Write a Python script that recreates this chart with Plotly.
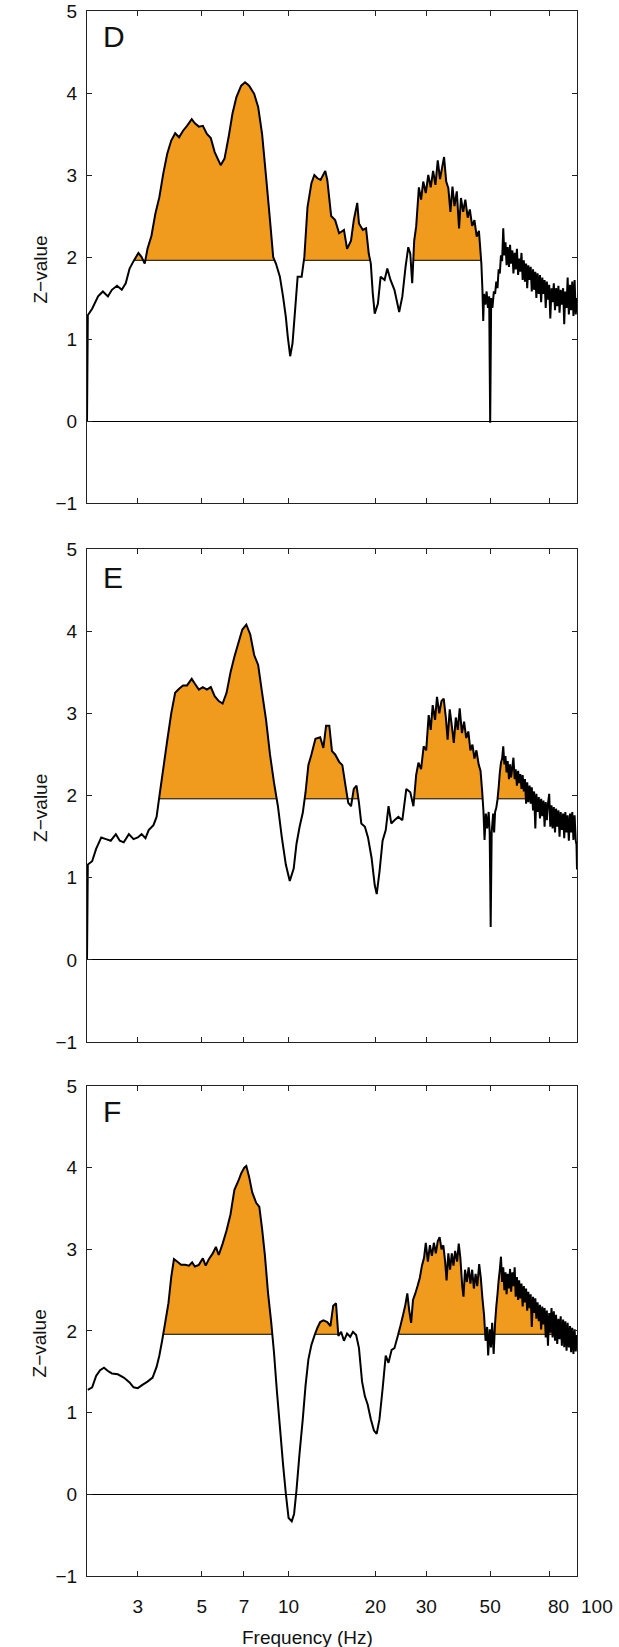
import numpy as np
import plotly.graph_objects as go

THRESH = 1.96

# ---------------- Panel D ----------------
freq_D = [2.0, 2.013, 2.084, 2.185, 2.27, 2.364, 2.44, 2.542, 2.64, 2.725, 2.81, 2.90,
          3.015, 3.093, 3.171, 3.242, 3.346, 3.453, 3.564, 3.678, 3.795, 3.918, 4.043,
          4.172, 4.306, 4.444, 4.615, 4.733, 4.885, 5.043, 5.209, 5.374, 5.543, 5.815,
          5.996, 6.193, 6.39, 6.594, 6.849, 7.066, 7.295, 7.598, 7.843, 8.094, 8.354,
          8.62, 8.843, 9.038, 9.328, 9.565, 9.781, 9.935, 10.126, 10.32, 10.51, 10.75,
          11.10, 11.34, 11.63, 12.0, 12.28, 12.59, 12.91, 13.4, 13.62, 14.05, 14.5,
          14.97, 15.56, 15.95, 16.46, 16.83, 17.3, 17.54, 18.09, 18.56, 18.97, 19.28,
          19.58, 19.89, 20.40, 20.85, 21.52, 21.99, 22.56, 23.28, 24.18, 24.80, 25.44,
          26.0, 26.42, 26.83, 27.26, 27.69,
          28.3, 28.8, 29.3, 29.9, 30.5, 31.1, 31.7, 32.3, 32.9, 33.5, 34.1, 34.6, 35.2,
          35.8, 36.4, 37.0, 37.6, 38.3, 39.0, 39.6, 40.3, 41.0, 41.8, 42.5, 43.3, 44.1,
          44.9, 45.7, 46.2, 46.6, 47.0, 47.3, 47.6, 48.1, 48.6, 49.1, 49.6, 50.0, 50.4,
          50.9, 51.5,
          52.0, 52.5, 53.0, 53.5, 54.0, 54.5, 55.0, 55.5, 56.0, 56.5, 57.0, 57.5, 58.1,
          58.6, 59.1, 59.7, 60.2, 60.8, 61.3, 61.9, 62.5, 63.0, 63.6, 64.2, 64.8, 65.4,
          66.0, 66.6, 67.2, 67.8, 68.5, 69.1, 69.7, 70.4, 71.0, 71.7, 72.3, 73.0, 73.7,
          74.4, 75.1, 75.8, 76.5, 77.2, 77.9, 78.6, 79.3, 80.1, 80.8, 81.6, 82.3, 83.1,
          83.9, 84.6, 85.4, 86.2, 87.0, 87.8, 88.6, 89.5, 90.3, 91.1, 92.0, 92.8, 93.7,
          94.6, 95.4, 96.3, 97.2, 98.1, 99.0, 100.0]
z_D = [0.0, 1.29, 1.37, 1.52, 1.58, 1.52, 1.60, 1.65, 1.60, 1.68, 1.86, 1.95,
       2.05, 2.00, 1.92, 2.10, 2.26, 2.53, 2.73, 3.02, 3.26, 3.42, 3.51,
       3.46, 3.54, 3.60, 3.68, 3.63, 3.59, 3.60, 3.50, 3.45, 3.28, 3.12,
       3.20, 3.46, 3.75, 3.95, 4.09, 4.13, 4.09, 3.99, 3.83, 3.50, 2.98,
       2.45, 2.00, 1.92, 1.76, 1.52, 1.27, 1.03, 0.79, 0.95, 1.31, 1.76,
       1.76, 2.00, 2.61, 2.90, 3.00, 2.96, 2.94, 3.05, 2.94, 2.50, 2.45,
       2.29, 2.33, 2.10, 2.20, 2.45, 2.66, 2.41, 2.33, 2.35, 2.04, 1.92,
       1.56, 1.31, 1.43, 1.76, 1.72, 1.86, 1.72, 1.60, 1.33, 1.52, 1.88,
       2.12, 2.04, 1.68, 2.20, 2.37,
       2.85, 2.70, 2.92, 2.78, 3.00, 2.85, 3.05, 2.88, 3.18, 2.95, 3.10, 3.22, 2.92,
       2.84, 2.55, 2.86, 2.62, 2.80, 2.35, 2.72, 2.55, 2.70, 2.48, 2.58, 2.38, 2.45,
       2.25, 2.32, 2.10, 1.92, 1.60, 1.22, 1.55, 1.42, 1.58, 1.38, 1.52, -0.02, 1.50,
       1.38, 1.58,
       1.55, 1.70, 1.62, 1.85, 1.80, 2.02, 1.95, 2.35, 2.02, 2.18, 1.90, 2.12, 1.88,
       2.15, 1.92, 2.08, 1.80, 2.05, 1.85, 2.10, 1.78, 1.98, 1.82, 2.05, 1.72, 1.96,
       1.70, 1.92, 1.62, 1.90, 1.72, 1.88, 1.58, 1.85, 1.60, 1.82, 1.50, 1.80, 1.55,
       1.78, 1.45, 1.75, 1.55, 1.72, 1.38, 1.70, 1.48, 1.66, 1.25, 1.62, 1.45, 1.68,
       1.35, 1.62, 1.40, 1.65, 1.32, 1.60, 1.42, 1.62, 1.18, 1.58, 1.38, 1.75, 1.30,
       1.66, 1.35, 1.70, 1.28, 1.72, 1.30, 1.50]
fill_ranges_D = [(2.81, 9.038), (11.10, 19.28), (26.83, 46.6)]

# ---------------- Panel E ----------------
freq_E = [2.0, 2.013, 2.084, 2.151, 2.241, 2.327, 2.417, 2.518, 2.598, 2.682, 2.794, 2.90,
          3.0, 3.093, 3.19, 3.273, 3.40, 3.486, 3.564, 3.678, 3.795, 3.918, 4.043, 4.172,
          4.306, 4.444, 4.615, 4.733, 4.885, 5.043, 5.209, 5.374, 5.543, 5.725, 5.906,
          6.094, 6.291, 6.488, 6.70, 6.913, 7.135, 7.363, 7.598, 7.843, 8.094, 8.354,
          8.62, 8.898, 9.183, 9.474, 9.781, 10.094, 10.416, 10.65, 10.92, 11.20, 11.45,
          11.71, 12.0, 12.39, 12.87, 13.2, 13.49, 13.84, 14.14, 14.5, 14.97, 15.36,
          15.75, 16.10, 16.46, 16.83, 17.2, 17.54, 17.87, 18.39, 18.85, 19.40, 19.89,
          20.21, 20.66, 21.18, 21.72, 22.21, 22.70, 23.28, 24.02, 24.80, 25.6, 26.42,
          27.09, 27.69,
          28.2, 28.8, 29.4, 30.0, 30.6, 31.1, 31.6, 32.2, 32.7, 33.3, 33.9, 34.5, 35.1,
          35.6, 36.2, 36.8, 37.4, 38.0, 38.6, 39.2, 39.9, 40.6, 41.3, 42.0, 42.7, 43.4,
          44.1, 44.8, 45.6, 46.3, 46.9, 47.4, 47.8, 48.3, 48.8, 49.4, 49.8, 50.2, 50.6,
          51.2, 51.6,
          52.0, 52.5, 53.0, 53.5, 54.0, 54.5, 55.0, 55.5, 56.0, 56.5, 57.0, 57.5, 58.1,
          58.6, 59.1, 59.7, 60.2, 60.8, 61.3, 61.9, 62.5, 63.0, 63.6, 64.2, 64.8, 65.4,
          66.0, 66.6, 67.2, 67.8, 68.5, 69.1, 69.7, 70.4, 71.0, 71.7, 72.3, 73.0, 73.7,
          74.4, 75.1, 75.8, 76.5, 77.2, 77.9, 78.6, 79.3, 80.1, 80.8, 81.6, 82.3, 83.1,
          83.9, 84.6, 85.4, 86.2, 87.0, 87.8, 88.6, 89.5, 90.3, 91.1, 92.0, 92.8, 93.7,
          94.6, 95.4, 96.3, 97.2, 98.1, 99.0, 99.6, 100.0]
z_E = [0.0, 1.16, 1.20, 1.35, 1.49, 1.47, 1.45, 1.53, 1.45, 1.43, 1.53, 1.47,
       1.49, 1.53, 1.48, 1.58, 1.64, 1.74, 1.99, 2.33, 2.67, 3.00, 3.25, 3.30,
       3.34, 3.34, 3.42, 3.36, 3.29, 3.32, 3.29, 3.32, 3.21, 3.15, 3.12,
       3.25, 3.50, 3.69, 3.86, 4.02, 4.08, 3.96, 3.71, 3.59, 3.25, 2.92,
       2.50, 2.16, 1.87, 1.49, 1.16, 0.96, 1.11, 1.41, 1.62, 1.79, 2.04,
       2.37, 2.50, 2.69, 2.71, 2.58, 2.85, 2.85, 2.54, 2.50, 2.41, 2.37,
       2.12, 1.91, 1.87, 2.08, 2.12, 1.91, 1.66, 1.62, 1.49, 1.24, 0.91,
       0.80, 1.07, 1.45, 1.58, 1.87, 1.66, 1.70, 1.74, 1.70, 2.08, 2.04,
       1.87, 2.25,
       2.40, 2.32, 2.60, 2.55, 2.98, 2.80, 3.10, 2.92, 3.20, 3.00, 3.15, 3.18, 2.95,
       2.68, 3.05, 2.85, 2.64, 2.95, 2.80, 3.06, 2.76, 2.90, 2.70, 2.78, 2.55, 2.62,
       2.45, 2.55, 2.38, 2.30, 2.05, 1.80, 1.46, 1.78, 1.60, 1.80, 1.55, 0.40, 1.55,
       1.78, 1.55,
       1.80, 1.85, 1.95, 2.10, 2.28, 2.40, 2.45, 2.60, 2.38, 2.48, 2.28, 2.42, 2.20,
       2.38, 2.22, 2.35, 2.46, 2.20, 2.32, 2.12, 2.30, 2.15, 2.26, 2.08, 2.25, 2.05,
       2.20, 1.90, 2.16, 1.92, 2.12, 1.90, 2.10, 1.82, 2.05, 1.60, 2.02, 1.80, 1.98,
       1.72, 1.96, 1.75, 1.94, 1.62, 1.92, 1.70, 1.90, 2.02, 1.62, 1.88, 1.60, 1.86,
       1.55, 1.84, 1.62, 1.82, 1.50, 1.80, 1.58, 1.78, 1.48, 1.80, 1.55, 1.76, 1.45,
       1.78, 1.55, 1.80, 1.46, 1.76, 1.45, 1.40, 1.10]
fill_ranges_E = [(3.486, 9.183), (11.20, 17.87), (27.09, 47.4), (52.5, 66.6)]

# ---------------- Panel F ----------------
freq_F = [2.013, 2.084, 2.151, 2.22, 2.291, 2.364, 2.44, 2.558, 2.682, 2.81, 2.90, 3.0,
          3.112, 3.242, 3.377, 3.486, 3.564, 3.643, 3.737, 3.832, 3.918, 4.004, 4.107,
          4.238, 4.374, 4.515, 4.63, 4.733, 4.885, 5.043, 5.159, 5.291, 5.457, 5.598,
          5.725, 5.906, 6.094, 6.291, 6.488, 6.70, 6.849, 7.02, 7.135, 7.295, 7.477,
          7.72, 7.917, 8.094, 8.276, 8.484, 8.704, 8.898, 9.096, 9.328, 9.565, 9.781,
          10.0, 10.255, 10.448, 10.65, 10.92, 11.20, 11.45, 11.71, 12.0, 12.31, 12.59,
          12.87, 13.2, 13.62, 13.965, 14.28, 14.6, 14.88, 15.21, 15.56, 15.95, 16.36,
          16.72, 17.15, 17.54, 17.98, 18.39, 18.8, 19.28, 19.77, 20.2, 20.66, 21.18,
          21.72, 22.2, 22.77, 23.28, 23.87,
          24.41, 24.95, 25.4, 25.8, 26.2, 26.6, 27.0, 27.5, 28.0, 28.5, 29.0, 29.5, 29.9,
          30.4, 30.9, 31.4, 31.9, 32.4, 32.9, 33.4, 33.9, 34.4, 34.9, 35.3, 35.8, 36.3,
          36.8, 37.3, 37.8, 38.4, 38.9, 39.4, 40.0, 40.4, 40.9, 41.5, 42.1, 42.7, 43.3,
          43.9, 44.5, 45.1, 45.8, 46.4, 47.0, 47.6, 48.2, 48.8, 49.2, 49.8, 50.3, 50.8,
          51.4,
          52.0, 52.5, 53.0, 53.5, 54.0, 54.5, 55.0, 55.5, 56.0, 56.5, 57.0, 57.5, 58.1,
          58.6, 59.1, 59.7, 60.2, 60.8, 61.3, 61.9, 62.5, 63.0, 63.6, 64.2, 64.8, 65.4,
          66.0, 66.6, 67.2, 67.8, 68.5, 69.1, 69.7, 70.4, 71.0, 71.7, 72.3, 73.0, 73.7,
          74.4, 75.1, 75.8, 76.5, 77.2, 77.9, 78.6, 79.3, 80.1, 80.8, 81.6, 82.3, 83.1,
          83.9, 84.6, 85.4, 86.2, 87.0, 87.8, 88.6, 89.5, 90.3, 91.1, 92.0, 92.8, 93.7,
          94.6, 95.4, 96.3, 97.2, 98.1, 99.0, 100.0]
z_F = [1.28, 1.31, 1.45, 1.52, 1.55, 1.51, 1.48, 1.47, 1.43, 1.37, 1.31, 1.30,
       1.34, 1.38, 1.43, 1.56, 1.70, 1.88, 2.11, 2.34, 2.66, 2.88, 2.85,
       2.81, 2.81, 2.80, 2.84, 2.79, 2.81, 2.89, 2.80, 2.88, 2.95, 3.03,
       2.93, 3.07, 3.23, 3.43, 3.73, 3.84, 3.93, 4.00, 4.02, 3.89, 3.70,
       3.57, 3.52, 3.25, 2.93, 2.47, 2.11, 1.74, 1.29, 0.83, 0.37, 0.01,
       -0.29, -0.33, -0.24, 0.05, 0.51, 0.92, 1.33, 1.65, 1.83, 1.95, 2.04,
       2.11, 2.13, 2.11, 2.06, 2.31, 2.34, 1.94, 1.99, 1.88, 1.97, 1.93,
       1.99, 1.95, 1.79, 1.38, 1.20, 1.10, 0.92, 0.78, 0.74, 0.92, 1.29,
       1.70, 1.61, 1.77, 1.79, 1.93,
       2.06, 2.20, 2.32, 2.46, 2.25, 2.10, 2.38, 2.46, 2.55, 2.65, 2.80, 2.90, 3.08,
       2.85, 3.05, 2.92, 3.08, 2.95, 3.10, 3.15, 3.00, 3.05, 2.85, 2.62, 2.95, 2.75,
       2.95, 2.80, 2.98, 2.85, 3.07, 2.90, 2.55, 2.42, 2.75, 2.60, 2.78, 2.58, 2.75,
       2.52, 2.70, 2.55, 2.82, 2.65, 2.40, 2.20, 1.88, 2.05, 1.70, 2.02, 1.80, 2.10,
       1.72,
       2.10, 2.30, 2.45, 2.62, 2.75, 2.91, 2.60, 2.78, 2.50, 2.72, 2.45, 2.70, 2.52,
       2.76, 2.48, 2.72, 2.55, 2.78, 2.42, 2.66, 2.38, 2.62, 2.40, 2.58, 2.30, 2.55,
       2.35, 2.52, 2.25, 2.48, 2.28, 2.45, 2.05, 2.42, 2.22, 2.40, 2.15, 2.35, 2.12,
       2.32, 2.02, 2.30, 2.08, 2.28, 1.92, 2.25, 1.82, 2.22, 1.98, 2.28, 1.92, 2.24,
       1.88, 2.20, 1.84, 2.15, 1.90, 2.18, 1.82, 2.14, 1.80, 2.12, 1.76, 2.10, 1.80,
       2.06, 1.74, 2.04, 1.72, 2.02, 1.75, 1.95]
fill_ranges_F = [(3.643, 8.898), (12.31, 14.88), (23.87, 85.4)]

panel_labels = ["D", "E", "F"]
x_tick_vals = [3, 5, 7, 10, 20, 30, 50, 80, 100]
x_tick_text = ["3", "5", "7", "10", "20", "30", "50", "", ""]
# labels drawn separately (nudged right, as in the original)
x_extra_labels = [(80, "80", 9), (100, "100", 20)]
y_tick_vals = [-1, 0, 1, 2, 3, 4, 5]

ORANGE = "#F09A1E"
FONT = "Liberation Sans"


def clipped_fill(freq, z, a, b, thr=THRESH):
    lf = np.log10(np.asarray(freq, dtype=float))
    z = np.asarray(z, dtype=float)
    xs, ys = [], []
    n = len(lf)
    for i in range(n):
        if a <= freq[i] <= b:
            xs.append(lf[i])
            ys.append(max(z[i], thr))
            if i < n - 1 and freq[i + 1] <= b and (z[i] - thr) * (z[i + 1] - thr) < 0:
                t = (thr - z[i]) / (z[i + 1] - z[i])
                xs.append(lf[i] + t * (lf[i + 1] - lf[i]))
                ys.append(thr)
    above = [k for k, y in enumerate(ys) if y > thr]
    k0 = max(above[0] - 1, 0)
    k1 = min(above[-1] + 1, len(ys) - 1)
    xs, ys = xs[k0:k1 + 1], ys[k0:k1 + 1]
    if ys[0] > thr:
        xs, ys = [xs[0]] + xs, [thr] + ys
    if ys[-1] > thr:
        xs, ys = xs + [xs[-1]], ys + [thr]
    return 10 ** np.array(xs), np.array(ys)


panels = [(freq_D, z_D, fill_ranges_D), (freq_E, z_E, fill_ranges_E), (freq_F, z_F, fill_ranges_F)]

fig = go.Figure()
for idx, (fr, zz, ranges) in enumerate(panels):
    xa = "x" if idx == 0 else f"x{idx + 1}"
    ya = "y" if idx == 0 else f"y{idx + 1}"
    for (a, b) in ranges:
        fx, fy = clipped_fill(fr, zz, a, b)
        fig.add_trace(go.Scatter(x=fx, y=fy, mode="lines", fill="toself",
                                 fillcolor=ORANGE, line=dict(width=0),
                                 xaxis=xa, yaxis=ya, hoverinfo="skip"))
        fig.add_trace(go.Scatter(x=[fx[0], fx[-1]], y=[THRESH, THRESH], mode="lines",
                                 line=dict(color="black", width=1),
                                 xaxis=xa, yaxis=ya, hoverinfo="skip"))
    fig.add_trace(go.Scatter(x=fr, y=zz, mode="lines",
                             line=dict(color="black", width=2, simplify=False),
                             xaxis=xa, yaxis=ya))

# domains (paper fractions)
y_domains = [[0.6856, 1.0], [0.3412, 0.6562], [0.0, 0.3131]]

axis_common = dict(showline=True, linecolor="#222222", linewidth=1.2, mirror="ticks",
                   ticks="inside", ticklen=5, tickwidth=1, tickcolor="#222222",
                   showgrid=False, automargin=False,
                   tickfont=dict(family=FONT, size=19, color="#111111"))

layout = dict(width=619, height=1647, margin=dict(l=87, r=42, t=11, b=71),
              paper_bgcolor="white", plot_bgcolor="white", showlegend=False)

for idx in range(3):
    xkey = "xaxis" if idx == 0 else f"xaxis{idx + 1}"
    ykey = "yaxis" if idx == 0 else f"yaxis{idx + 1}"
    ya = "y" if idx == 0 else f"y{idx + 1}"
    xa = "x" if idx == 0 else f"x{idx + 1}"
    layout[xkey] = dict(axis_common, type="log", range=[np.log10(2), 2],
                        tickvals=x_tick_vals, ticktext=x_tick_text, tickangle=0,
                        showticklabels=(idx == 2), zeroline=False, anchor=ya,
                        domain=[0, 1], ticklabelstandoff=13)
    layout[ykey] = dict(axis_common, range=[-1, 5], tickvals=y_tick_vals,
                        zeroline=True, zerolinecolor="black", zerolinewidth=1.2,
                        anchor=xa, domain=y_domains[idx], ticklabelstandoff=5)

fig.update_layout(**layout)

# nudged x tick labels (80, 100) on the bottom axis
for val, txt, shift in x_extra_labels:
    fig.add_annotation(text=txt, x=np.log10(val), y=-0.0198, xref="x3", yref="paper",
                       xanchor="center", yanchor="middle", xshift=shift, showarrow=False,
                       font=dict(family=FONT, size=19, color="#111111"))

# panel letters
letter_y = [0.984, 0.6383, 0.2971]
for lab, yy in zip(panel_labels, letter_y):
    fig.add_annotation(text=lab, x=0.0286, y=yy, xref="paper", yref="paper",
                       xanchor="left", yanchor="middle", showarrow=False,
                       font=dict(family=FONT, size=30, color="#111111"))

# y-axis titles
title_y = [0.8351, 0.4911, 0.1489]
for yy in title_y:
    fig.add_annotation(text="Z\u2212value", x=-0.095, y=yy, xref="paper", yref="paper",
                       xanchor="center", yanchor="middle", textangle=-90, showarrow=False,
                       font=dict(family=FONT, size=19, color="#111111"))

# x-axis title
fig.add_annotation(text="Frequency (Hz)", x=0.451, y=-0.039, xref="paper", yref="paper",
                   xanchor="center", yanchor="middle", showarrow=False,
                   font=dict(family=FONT, size=19, color="#111111"))

fig.write_html("out.html", config={"displayModeBar": False},
               post_script="document.body.style.margin='0px';")
